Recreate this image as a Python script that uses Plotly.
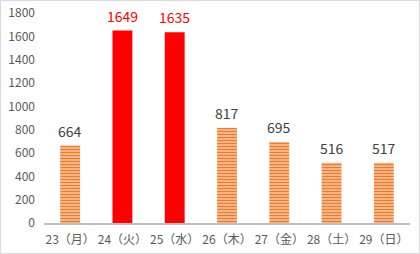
import plotly.graph_objects as go

categories = ["23（月）", "24（火）", "25（水）", "26（木）", "27（金）", "28（土）", "29（日）"]
values = [664, 1649, 1635, 817, 695, 516, 517]
highlight = [False, True, True, False, False, False, False]
yticks = [0, 200, 400, 600, 800, 1000, 1200, 1400, 1600, 1800]

W, H = 420, 254
ML, MR, MT, MB = 44, 10, 13, 31

norm_y = [None if h else v for v, h in zip(values, highlight)]
hi_y = [v if h else None for v, h in zip(values, highlight)]

fig = go.Figure()
fig.add_trace(go.Bar(
    x=categories, y=norm_y,
    marker=dict(
        color="#F9C7A0",
        line=dict(width=0),
        pattern=dict(shape="-", fgcolor="#F07A28", bgcolor="#FAD2B2",
                     size=3, solidity=0.55, fillmode="replace"),
    ),
    cliponaxis=False,
))
fig.add_trace(go.Bar(
    x=categories, y=hi_y,
    marker=dict(color="#FF0000", line=dict(width=0)),
    cliponaxis=False,
))

for c, v, h in zip(categories, values, highlight):
    fig.add_annotation(x=c, y=v, text=str(v), showarrow=False,
                       yanchor="bottom", yshift=3,
                       font=dict(family="Noto Sans CJK JP", size=14,
                                 color="#FF0000" if h else "#404040"))

pw = W - ML - MR
ph = H - MT - MB
fig.add_shape(type="rect", xref="paper", yref="paper",
              x0=-(ML - 0.5) / pw, x1=1 + (MR - 0.5) / pw,
              y0=-(MB - 0.5) / ph, y1=1 + (MT - 0.5) / ph,
              line=dict(color="#D9D9D9", width=1), layer="below")

fig.update_layout(
    width=W, height=H,
    margin=dict(l=ML, r=MR, t=MT, b=MB),
    paper_bgcolor="white", plot_bgcolor="white",
    barmode="overlay",
    bargap=0.62,
    showlegend=False,
    font=dict(family="Noto Sans CJK JP", color="#595959", size=12),
    xaxis=dict(showline=True, linecolor="#BFBFBF", linewidth=2, ticks="",
               tickfont=dict(size=12, color="#595959"), fixedrange=True,
               ticklabelstandoff=5, automargin=False),
    yaxis=dict(range=[0, 1800], tickmode="array", tickvals=yticks,
               showgrid=False, zeroline=False, ticklabeloverflow="allow",
               automargin=False,
               showline=False, ticks="", tickfont=dict(size=12, color="#595959"),
               ticklabelstandoff=8),
)

fig.write_html("out.html")
